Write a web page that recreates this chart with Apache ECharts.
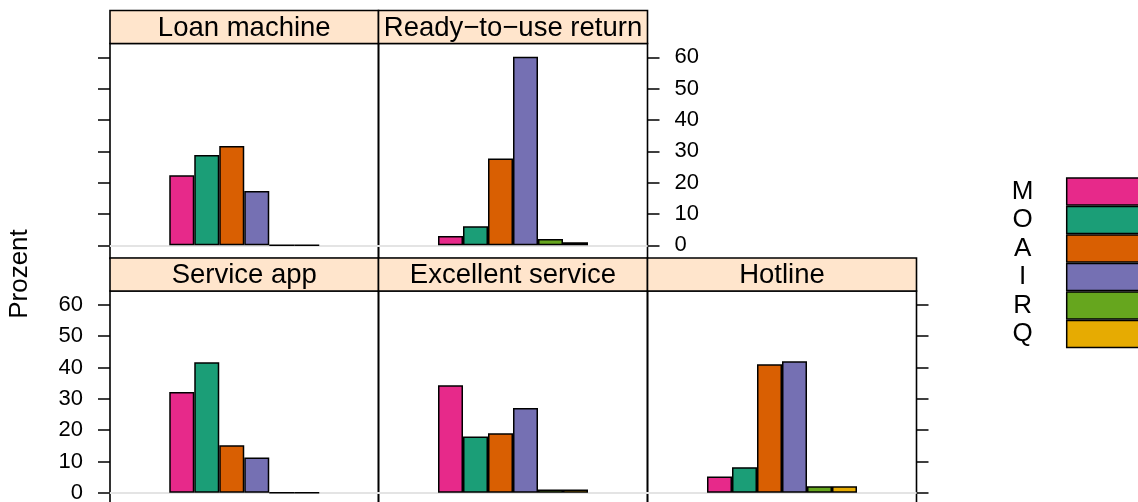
<!DOCTYPE html>
<html><head><meta charset="utf-8">
<script src="https://cdn.jsdelivr.net/npm/echarts@6/dist/echarts.min.js"></script>
<style>html,body{margin:0;padding:0;background:#fff}#c{width:1138px;height:502px}</style>
</head><body><div id="c"></div>
<script>
// ---- data ----
const panels = ['Loan machine', 'Ready\u2212to\u2212use return', 'Service app', 'Excellent service', 'Hotline'];
const groups = ['M', 'O', 'A', 'I', 'R', 'Q'];
const colors = ['#E7298A', '#1B9E77', '#D95F02', '#7570B3', '#66A61E', '#E6AB02'];
const valM = [22.4, 3.0, 32.2, 34.3, 5.2];
const valO = [28.8, 6.1, 41.7, 18.0, 8.2];
const valA = [31.7, 27.7, 15.2, 19.0, 41.0];
const valI = [17.3, 60.2, 11.3, 27.1, 42.0];
const valR = [0, 2.0, 0, 1.1, 2.1];
const valQ = [0, 1.0, 0, 1.1, 2.1];
const yTicks = [0, 10, 20, 30, 40, 50, 60];
const yLabel = 'Prozent';

// ---- layout ----
const FONT = '"Liberation Sans", Arial, Helvetica, sans-serif';
const H = 215, STRIP = 33;
const cells = [
  {left: 110,   top: 43.5, width: 268.5, axis: 'left',  labels: false},
  {left: 378.5, top: 43.5, width: 269,   axis: 'right', labels: true},
  {left: 110,   top: 291,  width: 268.5, axis: 'left',  labels: true},
  {left: 378.5, top: 291,  width: 269,   axis: null,    labels: false},
  {left: 647.5, top: 291,  width: 269,   axis: 'right', labels: false}
];
const vals = [valM, valO, valA, valI, valR, valQ];

const grid = [], xAxis = [], yAxis = [], series = [], graphic = [];
cells.forEach((c, i) => {
  grid.push({left: c.left, top: c.top, width: c.width, height: H, show: true,
    borderColor: '#000', borderWidth: 1.6, backgroundColor: 'transparent',
    containLabel: false, outerBoundsMode: 'none'});
  xAxis.push({gridIndex: i, type: 'category', data: [panels[i]],
    axisLine: {show: true, onZero: true, lineStyle: {color: '#e4e4e4', width: 2}},
    axisTick: {show: false}, axisLabel: {show: false}, splitLine: {show: false}});
  yAxis.push({gridIndex: i, type: 'value', min: -4.2, max: 64.4,
    position: c.axis || 'left',
    axisLine: {show: false}, splitLine: {show: false},
    axisTick: {show: !!c.axis, length: 12, inside: false, customValues: yTicks,
      lineStyle: {color: '#000', width: 1.5}},
    axisLabel: {show: !!c.axis && c.labels, customValues: yTicks, margin: 27,
      color: '#000', fontSize: 22, fontFamily: FONT}});
  groups.forEach((g, k) => {
    series.push({type: 'bar', name: g, xAxisIndex: i, yAxisIndex: i,
      data: [vals[k][i]], barWidth: 25, barGap: '0%',
      itemStyle: {color: colors[k], borderColor: '#000', borderWidth: 1.5},
      emphasis: {disabled: true}, animation: false});
  });
  graphic.push({type: 'rect', z: 10,
    shape: {x: c.left, y: c.top - STRIP, width: c.width, height: STRIP},
    style: {fill: '#FFE5CC', stroke: '#000', lineWidth: 1.6}});
  graphic.push({type: 'text', z: 11, x: c.left + c.width / 2, y: c.top - STRIP / 2 + 1,
    style: {text: panels[i], fill: '#000', fontSize: 27.5, fontFamily: FONT,
      align: 'center', verticalAlign: 'middle'}});
});
graphic.push({type: 'text', x: 20, y: 274, rotation: Math.PI / 2,
  style: {text: yLabel, fill: '#000', fontSize: 26, fontFamily: FONT,
    align: 'center', verticalAlign: 'middle'}});

const chart = echarts.init(document.getElementById('c'), null, {renderer: 'canvas'});
chart.setOption({
  animation: false,
  backgroundColor: '#fff',
  grid, xAxis, yAxis, series, graphic,
  legend: {orient: 'vertical', left: 1007.7, top: 177.3, padding: 0, itemGap: 0,
    itemWidth: 100, itemHeight: 27, align: 'right', icon: 'rect', data: groups,
    selectedMode: false,
    formatter: '{c|{name}}',
    itemStyle: {borderColor: '#000', borderWidth: 1.5},
    textStyle: {color: '#000', fontSize: 26, fontFamily: FONT, padding: [0, 24, 0, 0],
      rich: {c: {width: 30, align: 'center', fontSize: 26, lineHeight: 27, fontFamily: FONT, color: '#000'}}}}
});
</script></body></html>
